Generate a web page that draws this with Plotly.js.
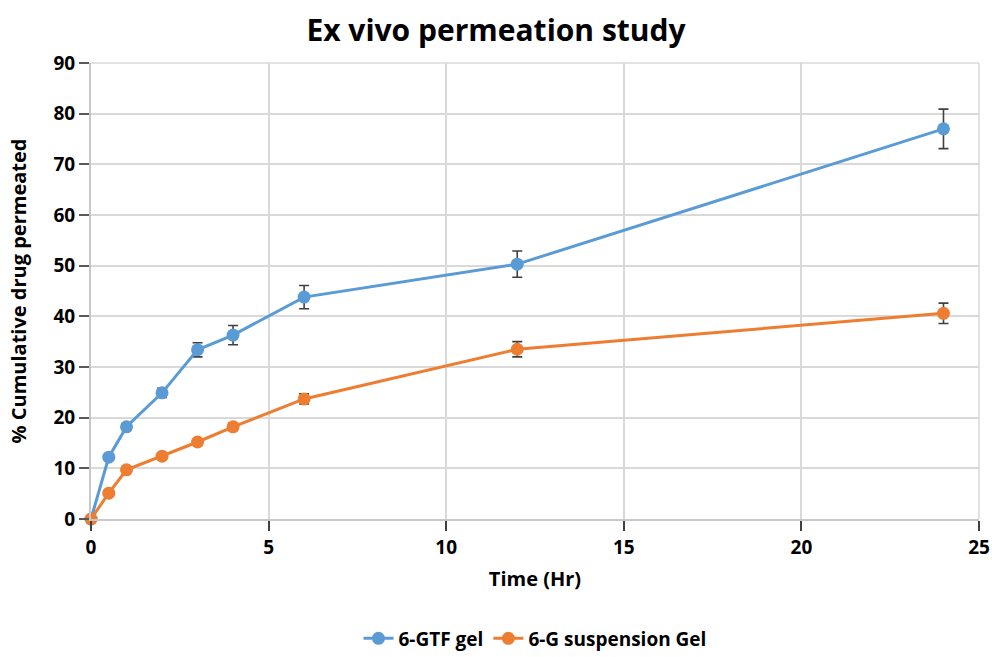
<!DOCTYPE html>
<html>
<head>
<meta charset="utf-8">
<script src="https://cdn.plot.ly/plotly-3.0.1.min.js"></script>
<style>html,body{margin:0;padding:0;background:#fff;}#chart{width:992px;height:657px;}</style>
</head>
<body>
<div id="chart"></div>
<script>
const time = [0, 0.5, 1, 2, 3, 4, 6, 12, 24];
const gtfGel = [0, 12.2, 18.2, 24.9, 33.4, 36.3, 43.8, 50.3, 77.0];
const gtfErr = [0, 0.4, 0.6, 0.9, 1.4, 1.9, 2.3, 2.6, 3.9];
const suspGel = [0, 5.1, 9.7, 12.4, 15.2, 18.2, 23.7, 33.5, 40.6];
const suspErr = [0, 0.3, 0.4, 0.5, 0.6, 0.7, 1.0, 1.5, 2.0];
const seriesNames = ["6-GTF gel", "6-G suspension Gel"];
const xTicks = [0, 5, 10, 15, 20, 25];
const yTicks = [0, 10, 20, 30, 40, 50, 60, 70, 80, 90];

const errStyle = {type: 'data', visible: true, color: '#404040', thickness: 1.6, width: 5};

const traces = [
  {x: time, y: gtfGel, name: '<b>' + seriesNames[0] + '</b>', type: 'scatter', mode: 'lines+markers',
   cliponaxis: false,
   line: {color: '#5b9bd5', width: 3}, marker: {color: '#5b9bd5', size: 13},
   error_y: Object.assign({array: gtfErr}, errStyle)},
  {x: time, y: suspGel, name: '<b>' + seriesNames[1] + '</b>', type: 'scatter', mode: 'lines+markers',
   cliponaxis: false,
   line: {color: '#ed7d31', width: 3}, marker: {color: '#ed7d31', size: 13},
   error_y: Object.assign({array: suspErr}, errStyle)}
];

const layout = {
  width: 992, height: 657,
  margin: {l: 91, r: 13, t: 63, b: 138, autoexpand: false},
  paper_bgcolor: '#fff', plot_bgcolor: '#fff',
  font: {family: 'Open Sans, sans-serif', color: '#000'},
  title: {text: '<b>Ex vivo permeation study</b>', font: {size: 30, color: '#000'}, x: 0.5, xanchor: 'center', y: 0.954, yanchor: 'middle'},
  xaxis: {
    range: [0, 25], tickmode: 'array', tickvals: xTicks, ticktext: xTicks.map(v => '<b>' + v + '</b>'),
    automargin: false,
    showgrid: true, gridcolor: '#d9d9d9', gridwidth: 1.5,
    showline: true, linecolor: '#c8c8c8', linewidth: 2,
    ticks: 'outside', ticklen: 10, tickcolor: '#404040', tickwidth: 1.5,
    tickfont: {size: 19, color: '#000'}, zeroline: false,
    title: {text: '<b>Time (Hr)</b>', font: {size: 20, color: '#000'}, standoff: 13}
  },
  yaxis: {
    range: [0, 90], tickmode: 'array', tickvals: yTicks, ticktext: yTicks.map(v => '<b>' + v + '</b>'),
    automargin: false,
    showgrid: true, gridcolor: '#d9d9d9', gridwidth: 1.5,
    showline: true, linecolor: '#c8c8c8', linewidth: 2,
    ticks: 'outside', ticklen: 10, tickcolor: '#595959', tickwidth: 1.5,
    tickfont: {size: 19, color: '#000'}, zeroline: false,
    title: {text: '<b>% Cumulative drug permeated</b>', font: {size: 20, color: '#000'}, standoff: 21}
  },
  showlegend: true,
  legend: {orientation: 'h', x: 0.5, xanchor: 'center', y: -0.262, yanchor: 'middle', font: {size: 19, color: '#000'}},
  shapes: [
    {type: 'line', xref: 'paper', yref: 'paper', x0: 1, x1: 1, y0: 0, y1: 1, line: {color: '#d9d9d9', width: 1.5}},
    {type: 'line', xref: 'paper', yref: 'paper', x0: 0, x1: 1, y0: 1, y1: 1, line: {color: '#d9d9d9', width: 1.5}}
  ]
};

Plotly.newPlot('chart', traces, layout, {displayModeBar: false});
</script>
</body>
</html>
